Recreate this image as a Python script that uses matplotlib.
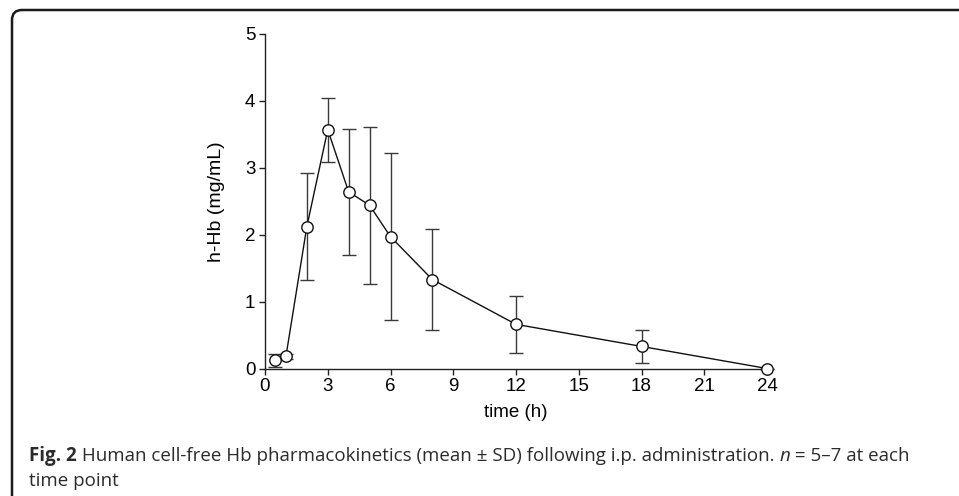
"""
Human cell-free Hb pharmacokinetics (mean +/- SD), figure with caption.
"""

import matplotlib
matplotlib.use("Agg")
import matplotlib.pyplot as plt
import matplotlib.patches as mpatches
from matplotlib.transforms import IdentityTransform


# ---- Data ----

time_h = [0.5, 1, 2, 3, 4, 5, 6, 8, 12, 18, 24]
hb_mean = [0.12, 0.18, 2.12, 3.57, 2.64, 2.44, 1.97, 1.33, 0.66, 0.33, 0.0]
hb_sd = [0.10, 0.04, 0.80, 0.48, 0.94, 1.17, 1.25, 0.76, 0.43, 0.25, 0.0]

x_ticks = [0, 3, 6, 9, 12, 15, 18, 21, 24]
y_ticks = [0, 1, 2, 3, 4, 5]

caption_parts = [
    ("Fig. 2", "bold", "normal"),
    (" Human cell-free Hb pharmacokinetics (mean \u00b1 SD) following i.p. administration. ", "normal", "normal"),
    ("n", "normal", "italic"),
    (" = 5\u20137 at each", "normal", "normal"),
]
caption_line2 = "time point"


# ---- Figure ----

W, H = 959, 496
fig = plt.figure(figsize=(W / 100, H / 100), dpi=100)

# axes placed to match the pixel positions of the reference
ax = fig.add_axes([265 / W, 1 - 368.5 / H, (767 - 265) / W, (368.5 - 34) / H])

axis_col = '#222222'
ax.errorbar(time_h, hb_mean, yerr=hb_sd, fmt='none', ecolor='#3a3a3a',
            elinewidth=1.0, capsize=5, capthick=1.0, zorder=2, clip_on=False)
ax.plot(time_h, hb_mean, color='#111111', linewidth=1.0, marker='o',
        markersize=8.2, markerfacecolor='white', markeredgecolor='#111111',
        markeredgewidth=1.0, zorder=3, clip_on=False)

ax.set_xlim(0, 24)
ax.set_ylim(0, 5)
ax.set_xticks(x_ticks)
ax.set_yticks(y_ticks)
for side in ['top', 'right']:
    ax.spines[side].set_visible(False)
for side in ['left', 'bottom']:
    ax.spines[side].set_color(axis_col)
    ax.spines[side].set_linewidth(1.0)
ax.tick_params(direction='out', length=4.5, width=1.0, color=axis_col,
               labelsize=13.5, pad=2.5, labelcolor='black')
for lab in ax.get_xticklabels() + ax.get_yticklabels():
    lab.set_family('Liberation Sans')

ax.set_xlabel('time (h)', fontsize=13.5, family='Liberation Sans', labelpad=6)
ax.set_ylabel('h-Hb (mg/mL)', fontsize=14, family='Liberation Sans', labelpad=14)


# ---- Frame (left + top line with a rounded corner) ----

frame = mpatches.FancyBboxPatch((12, -40), 1100, 486 + 40,
                                boxstyle='round,pad=0,rounding_size=10',
                                transform=IdentityTransform(), fill=False,
                                edgecolor='#1a1a1a', linewidth=1.8)
fig.patches.append(frame)


# ---- Caption ----

cap_kw = dict(fontsize=13.5, family='Open Sans', color='#2b2b2b', va='center')
renderer = fig.canvas.get_renderer()
x_px = 29
y1 = 1 - 456 / H
for txt, weight, style in caption_parts:
    t = fig.text(x_px / W, y1, txt, fontweight=weight, fontstyle=style, **cap_kw)
    bb = t.get_window_extent(renderer=renderer)
    x_px += bb.width
fig.text(29 / W, 1 - 481 / H, caption_line2, **cap_kw)

fig.savefig('out.png', dpi=100)
